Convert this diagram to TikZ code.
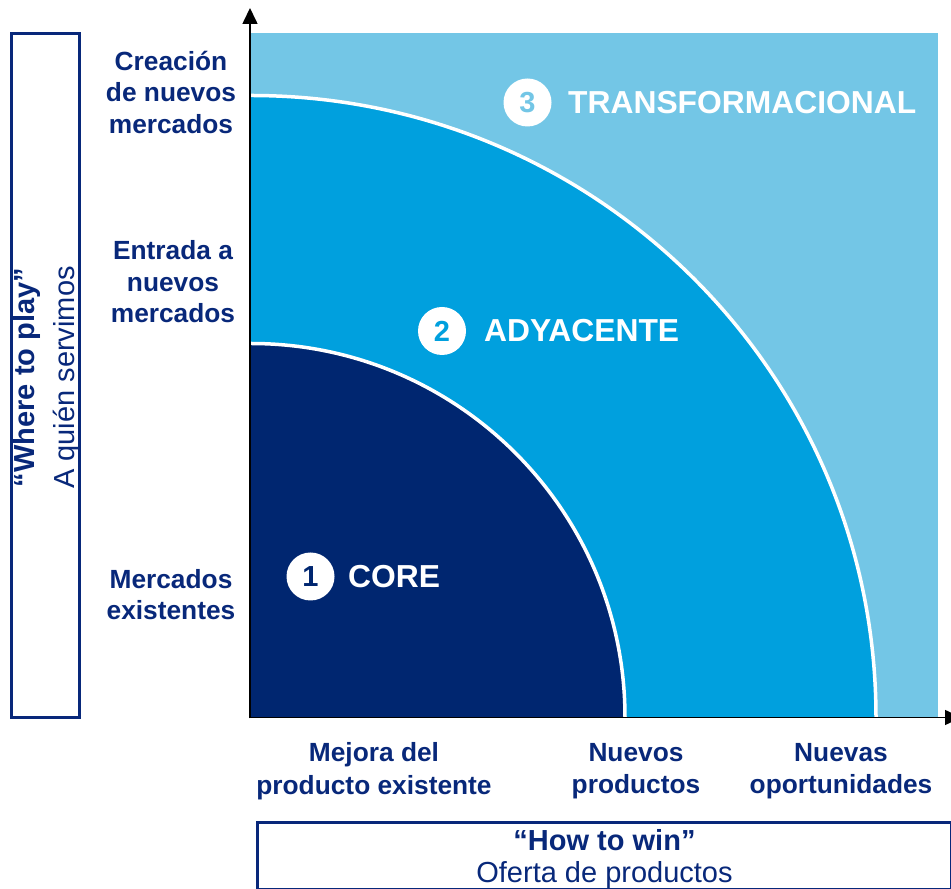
\documentclass[tikz,border=0pt]{standalone}
\usepackage{fontspec}
\setmainfont{Liberation Sans}
\usetikzlibrary{arrows.meta}
\definecolor{navy}{RGB}{8,40,122}
\definecolor{coreblue}{RGB}{0,38,112}
\definecolor{adjblue}{RGB}{0,160,222}
\definecolor{transblue}{RGB}{115,198,230}
\begin{document}
\begin{tikzpicture}[x=1pt,y=1pt,
  lbl/.style={text=navy,font=\bfseries\fontsize{26.3}{31.5}\selectfont,align=center,inner sep=0},
  ring/.style={circle,fill=white,minimum size=48pt,inner sep=0,font=\bfseries\fontsize{29}{29}\selectfont},
  zone/.style={text=white,font=\bfseries\fontsize{31.8}{31.8}\selectfont,anchor=west,inner sep=0},
  axis/.style={line width=1.6pt,-{Triangle[length=16pt,width=15pt]}},
  frame/.style={draw=navy,line width=3pt},
  border/.style={white,line width=3.5pt}]
\useasboundingbox (0,0) rectangle (951,889);
\clip (0,0) rectangle (951,889);

% growth zones
\fill[transblue] (251,171.5) rectangle (938,856);
\fill[adjblue] (251,171.5) -- (876,171.5)
  arc[start angle=0,end angle=90,x radius=625,y radius=622] -- cycle;
\draw[border] (876,171.5) arc[start angle=0,end angle=90,x radius=625,y radius=622];
\fill[coreblue] (251,171.5) -- (625,171.5)
  arc[start angle=0,end angle=90,x radius=374,y radius=374] -- cycle;
\draw[border] (625,171.5) arc[start angle=0,end angle=90,x radius=374,y radius=374];

% axes
\coordinate (O) at (250,171.5);
\coordinate (ytip) at (250,881);
\coordinate (xtip) at (961,171.5);
\draw[axis] ([yshift=-0.8pt]O) -- (ytip);
\draw[axis] ([xshift=-0.8pt]O) -- (xtip);

% zone titles
\node[ring,text=transblue] (c3) at (527.5,786.5) {3};
\node[zone] (t3) at (568,786.5) {TRANSFORMACIONAL};
\node[ring,text=adjblue] (c2) at (442,558) {2};
\node[zone] (t2) at (484,558) {ADYACENTE};
\node[ring,text=coreblue] (c1) at (310.5,312.5) {1};
\node[zone] (t1) at (348,312.5) {CORE};

% vertical axis categories
\node[lbl] (y3) at (171,797) {Creación\\de nuevos\\mercados};
\node[lbl] (y2) at (173,607) {Entrada a\\nuevos\\mercados};
\node[lbl] (y1) at (171,294.5) {Mercados\\existentes};

% horizontal axis categories
\begin{scope}[lbl/.append style={font=\bfseries\fontsize{26.3}{32.5}\selectfont}]
\node[lbl] (x1) at (374,118) {Mejora del\\producto existente};
\node[lbl] (x2) at (636,118) {Nuevos\\productos};
\node[lbl] (x3) at (841,118) {Nuevas\\oportunidades};
\end{scope}

% axis titles
\draw[frame] (11.8,171) rectangle (79.5,855);
\node[rotate=90,text=navy,align=center,inner sep=0,
  font=\fontsize{29}{40}\selectfont] (wp) at (47,511.5)
  {\textbf{“Where to play”}\\A quién servimos};
\draw[frame] (257,66.5) rectangle (951.5,-0.5);
\node[text=navy,inner sep=0,font=\bfseries\fontsize{29}{29}\selectfont] (hw) at (604.5,49) {“How to win”};
\node[text=navy,inner sep=0,font=\fontsize{29}{29}\selectfont] (of) at (604.5,13.5) {Oferta de productos};
\end{tikzpicture}
\end{document}
